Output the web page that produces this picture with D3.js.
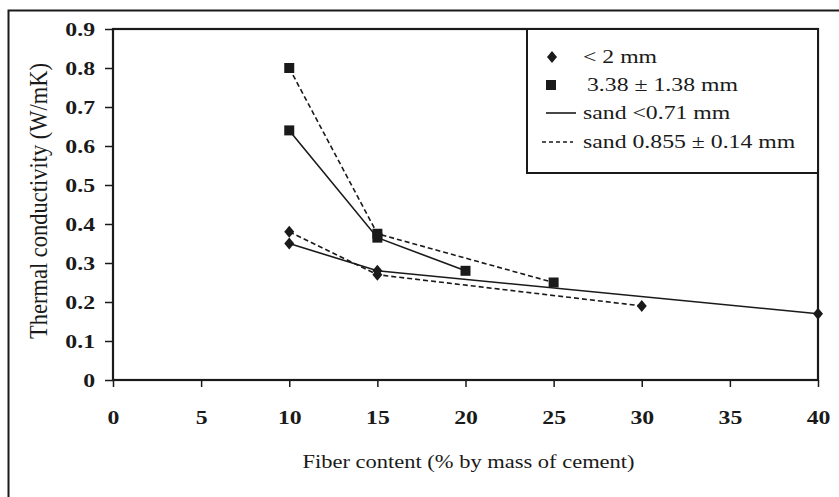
<!DOCTYPE html>
<html>
<head>
<meta charset="utf-8">
<script src="https://cdn.jsdelivr.net/npm/d3@7"></script>
<style>
  html, body { margin: 0; padding: 0; background: #fff; }
  svg { display: block; }
  text { font-family: "Liberation Serif", "Times New Roman", serif; fill: #1a1a1a; }
</style>
</head>
<body>
<svg id="chart" width="839" height="497"></svg>
<script>
// Fiber content (% by mass of cement) for each series
const fiberSmallSandFine   = [10, 15, 40];
const fiberSmallSandCoarse = [10, 15, 30];
const fiberLargeSandFine   = [10, 15, 20];
const fiberLargeSandCoarse = [10, 15, 25];

// Thermal conductivity (W/mK)
const kSmallSandFine   = [0.35, 0.28, 0.17];
const kSmallSandCoarse = [0.38, 0.27, 0.19];
const kLargeSandFine   = [0.64, 0.365, 0.28];
const kLargeSandCoarse = [0.80, 0.375, 0.25];

const xTicks = [0, 5, 10, 15, 20, 25, 30, 35, 40];
const yTicks = [0, 0.1, 0.2, 0.3, 0.4, 0.5, 0.6, 0.7, 0.8, 0.9];

const legendLabels = ["< 2 mm", "3.38 \u00b1 1.38 mm", "sand <0.71 mm", "sand 0.855 \u00b1 0.14 mm"];

const series = [
  { xs: fiberSmallSandFine,   ys: kSmallSandFine,   marker: "diamond", dashed: false },
  { xs: fiberSmallSandCoarse, ys: kSmallSandCoarse, marker: "diamond", dashed: true },
  { xs: fiberLargeSandFine,   ys: kLargeSandFine,   marker: "square",  dashed: false },
  { xs: fiberLargeSandCoarse, ys: kLargeSandCoarse, marker: "square",  dashed: true }
];

const INK = "#1a1a1a";
const STRETCH = 1.25;   // the serif face is set slightly wide
const svg = d3.select("#chart");

// outer figure frame
svg.append("rect")
  .attr("x", 8.5).attr("y", 10.5)
  .attr("width", 860).attr("height", 520)
  .attr("fill", "none").attr("stroke", INK).attr("stroke-width", 2);

const plot = { left: 113, right: 818, top: 29, bottom: 380 };

const x = d3.scaleLinear().domain([0, 40]).range([plot.left, plot.right]);
const y = d3.scaleLinear().domain([0, 0.9]).range([plot.bottom, plot.top]);

// y axis
const yAxis = d3.axisLeft(y)
  .tickValues(yTicks)
  .tickSize(8)
  .tickPadding(10)
  .tickFormat(d => d === 0 ? "0" : d3.format(".1f")(d));

svg.append("g")
  .attr("transform", `translate(${plot.left},0)`)
  .call(yAxis)
  .call(g => g.select(".domain").remove())
  .call(g => g.selectAll(".tick line").attr("stroke", INK).attr("stroke-width", 1.5))
  .call(g => g.selectAll(".tick text")
    .attr("x", null)
    .attr("transform", `translate(-18,0) scale(${STRETCH},1)`)
    .attr("font-size", 19).attr("font-weight", "bold")
    .attr("font-family", "Liberation Serif").attr("fill", INK));

// x axis
const xAxis = d3.axisBottom(x)
  .tickValues(xTicks)
  .tickSize(7)
  .tickPadding(24)
  .tickFormat(d3.format("d"));

svg.append("g")
  .attr("transform", `translate(0,${plot.bottom})`)
  .call(xAxis)
  .call(g => g.select(".domain").remove())
  .call(g => g.selectAll(".tick line").attr("stroke", INK).attr("stroke-width", 1.5))
  .call(g => g.selectAll(".tick text")
    .attr("transform", `scale(${STRETCH},1)`)
    .attr("font-size", 19).attr("font-weight", "bold")
    .attr("font-family", "Liberation Serif").attr("fill", INK));

// plot frame
svg.append("rect")
  .attr("x", plot.left).attr("y", plot.top)
  .attr("width", plot.right - plot.left).attr("height", plot.bottom - plot.top)
  .attr("fill", "none").attr("stroke", INK).attr("stroke-width", 2.2);

// axis titles
svg.append("text")
  .attr("transform", `translate(${(plot.left + plot.right) / 2 + 3},468) scale(${STRETCH},1)`)
  .attr("text-anchor", "middle")
  .attr("font-size", 18)
  .text("Fiber content (% by mass of cement)");

svg.append("text")
  .attr("transform", `translate(47,201) rotate(-90) scale(1,1.12)`)
  .attr("text-anchor", "middle")
  .attr("font-size", 22.5)
  .text("Thermal conductivity (W/mK)");

// series lines
const line = d3.line().x(d => x(d[0])).y(d => y(d[1]));

const gData = svg.append("g");
series.forEach(s => {
  const pts = s.xs.map((v, i) => [v, s.ys[i]]);
  gData.append("path")
    .datum(pts)
    .attr("d", line)
    .attr("fill", "none")
    .attr("stroke", INK)
    .attr("stroke-width", 1.6)
    .attr("stroke-dasharray", s.dashed ? "5,3" : null);
});

// markers
const diamond = (cx, cy, r) => `M${cx},${cy - r * 1.2}L${cx + r},${cy}L${cx},${cy + r * 1.2}L${cx - r},${cy}Z`;

function drawMarker(g, type, cx, cy) {
  if (type === "square") {
    g.append("rect")
      .attr("x", cx - 5).attr("y", cy - 5)
      .attr("width", 10).attr("height", 10)
      .attr("fill", INK);
  } else {
    g.append("path").attr("d", diamond(cx, cy, 5)).attr("fill", INK);
  }
}

series.forEach(s => {
  s.xs.forEach((v, i) => drawMarker(gData, s.marker, x(v), y(s.ys[i])));
});

// legend
const legend = svg.append("g");
legend.append("rect")
  .attr("x", 527).attr("y", plot.top)
  .attr("width", plot.right - 527).attr("height", 144)
  .attr("fill", "#fff").attr("stroke", INK).attr("stroke-width", 2);

const rowY = [57, 85, 113, 142];
const textX = [583, 587, 583, 583];

drawMarker(legend, "diamond", 552, rowY[0]);
drawMarker(legend, "square", 551, rowY[1]);
legend.append("line")
  .attr("x1", 546).attr("x2", 576).attr("y1", rowY[2]).attr("y2", rowY[2])
  .attr("stroke", INK).attr("stroke-width", 1.6);
legend.append("line")
  .attr("x1", 542).attr("x2", 573).attr("y1", rowY[3]).attr("y2", rowY[3])
  .attr("stroke", INK).attr("stroke-width", 1.4).attr("stroke-dasharray", "4,3");

legendLabels.forEach((t, i) => {
  legend.append("text")
    .attr("transform", `translate(${textX[i]},${rowY[i] + 6}) scale(${STRETCH},1)`)
    .attr("font-size", 19)
    .text(t);
});
</script>
</body>
</html>
